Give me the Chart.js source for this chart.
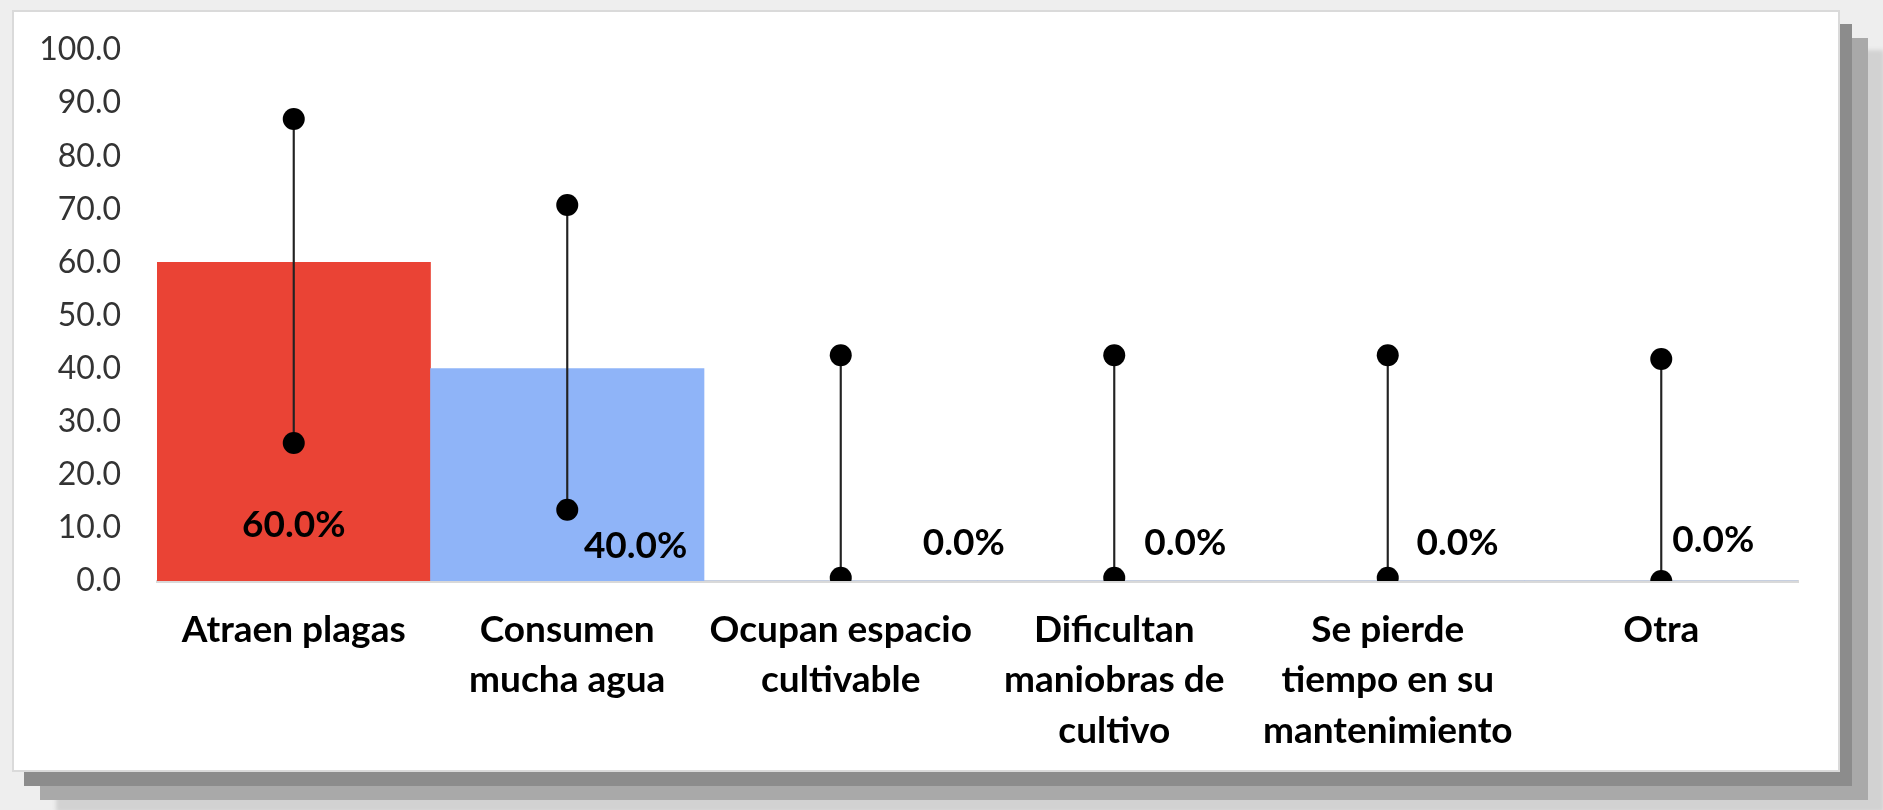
<!DOCTYPE html>
<html>
<head>
<meta charset="utf-8">
<script src="https://cdn.jsdelivr.net/npm/chart.js@4.4.1/dist/chart.umd.min.js"></script>
<style>
    html, body { margin: 0; padding: 0; }
    body { width: 1883px; height: 810px; background: #eeeeee; overflow: hidden; position: relative; }
    .card {
        position: absolute; left: 12px; top: 10px; width: 1824px; height: 758px;
        background: #fff; border: 2px solid #dadada;
        box-shadow: 12px 14px 0 0 #8c8c8c, 28px 28px 0 0 #a9a9a9, 44px 40px 4px 0 #d2d2d2;
    }
    .wrap { position: absolute; left: 0; top: 0; width: 1824px; height: 758px; }
</style>
</head>
<body>
<div class="card"><div class="wrap"><canvas id="chart"></canvas></div></div>
<script>
// categories and values
const categories = [
    ['Atraen plagas'],
    ['Consumen', 'mucha agua'],
    ['Ocupan espacio', 'cultivable'],
    ['Dificultan', 'maniobras de', 'cultivo'],
    ['Se pierde', 'tiempo en su', 'mantenimiento'],
    ['Otra']
];
const percentages = [60.0, 40.0, 0.0, 0.0, 0.0, 0.0];
const intervalLow = [26.0, 13.4, 0.6, 0.6, 0.6, 0.0];
const intervalHigh = [87.0, 70.8, 42.5, 42.5, 42.5, 41.8];
const yTicks = [0, 10, 20, 30, 40, 50, 60, 70, 80, 90, 100];

const barColors = ['#ea4335', '#8fb4f8', '#8fb4f8', '#8fb4f8', '#8fb4f8', '#8fb4f8'];
const FONT = 'Lato, "Noto Sans", sans-serif';

// percentage labels sit a bit off the bars, like in the original
const labelPlugin = {
    id: 'pctLabels',
    afterDatasetsDraw(chart) {
        const shift = [0, 0.25, 0.45, 0.26, 0.255, 0.19];
        const rise = [56, 35, 38, 38, 38, 41];
        const meta = chart.getDatasetMeta(3);
        const x = chart.scales.x;
        const y = chart.scales.y;
        const step = x.width / categories.length;
        const ctx = chart.ctx;
        ctx.save();
        ctx.font = 'bold 37px ' + FONT;
        ctx.fillStyle = '#000';
        ctx.textAlign = 'center';
        ctx.textBaseline = 'middle';
        meta.data.forEach((bar, i) => {
            const base = y.getPixelForValue(0);
            ctx.fillText(percentages[i].toFixed(1) + '%', bar.x + shift[i] * step, base - rise[i]);
        });
        ctx.restore();
    }
};

const ctx = document.getElementById('chart').getContext('2d');
new Chart(ctx, {
    data: {
        labels: categories,
        datasets: [
            {
                type: 'line',
                data: intervalHigh,
                showLine: false,
                pointRadius: 11,
                pointBackgroundColor: '#000',
                pointBorderWidth: 0,
                order: 0
            },
            {
                type: 'line',
                data: intervalLow,
                showLine: false,
                pointRadius: 11,
                pointBackgroundColor: '#000',
                pointBorderWidth: 0,
                order: 0
            },
            {
                type: 'bar',
                data: intervalLow.map((lo, i) => [lo, intervalHigh[i]]),
                backgroundColor: '#222',
                grouped: false,
                barThickness: 1.5,
                maxBarThickness: 1.5,
                order: 1
            },
            {
                type: 'bar',
                data: percentages,
                backgroundColor: barColors,
                borderWidth: 0,
                grouped: false,
                categoryPercentage: 1.0,
                barPercentage: 1.0,
                order: 2
            }
        ]
    },
    options: {
        responsive: true,
        maintainAspectRatio: false,
        animation: false,
        layout: {
            padding: { top: 38, right: 40, bottom: 0, left: 0 }
        },
        plugins: {
            legend: { display: false },
            tooltip: { enabled: false }
        },
        scales: {
            x: {
                grid: { display: false, drawTicks: false },
                border: { display: true, color: '#d9d9d9', width: 3 },
                ticks: {
                    color: '#000',
                    padding: 24,
                    maxRotation: 0,
                    autoSkip: false,
                    font: { family: FONT, size: 37, weight: 'bold', lineHeight: 1.36 }
                },
                afterFit: (scale) => { scale.height = 189; }
            },
            y: {
                min: 0,
                max: 100,
                afterBuildTicks: (scale) => { scale.ticks = yTicks.map(v => ({ value: v })); },
                grid: { display: false, drawTicks: false },
                border: { display: false },
                ticks: {
                    color: '#333',
                    padding: 36,
                    font: { family: FONT, size: 32 },
                    callback: (v) => Number(v).toFixed(1)
                },
                afterFit: (scale) => {
                    scale.width = 143;
                    // tick padding would otherwise push the plot top down
                    scale.paddingTop = 0;
                    scale.paddingBottom = 0;
                }
            }
        }
    },
    plugins: [labelPlugin]
});
</script>
</body>
</html>
